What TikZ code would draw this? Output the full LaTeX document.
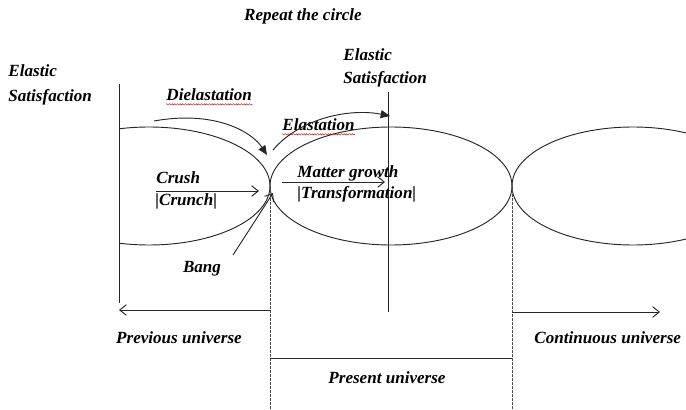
\documentclass[tikz,border=0pt]{standalone}
\usepackage{fontspec}
\setmainfont{Liberation Serif}
\usetikzlibrary{arrows.meta,positioning,shapes.geometric,decorations.pathmorphing}

\begin{document}
\begin{tikzpicture}[x=0.75pt,y=-0.75pt,line width=0.7pt,draw=black!85,
  lbl/.style={font=\fontsize{12.8}{14}\selectfont\bfseries\itshape,inner sep=0pt,anchor=base west},
  universe/.style={draw,ellipse,inner sep=0pt,outer sep=0pt,minimum width=181.5pt,minimum height=88.5pt},
  guide/.style={line width=0.55pt,dash pattern=on 2pt off 1pt,black!70},
  openarrow/.style={-{Straight Barb[length=5pt,width=8pt]}},
  fullarrow/.style={-{Triangle[length=7pt,width=6pt]}},
  squiggle/.style={red!80!black,line width=0.3pt,decorate,
    decoration={snake,amplitude=0.5pt,segment length=2pt}}]
  \useasboundingbox (0,0) rectangle (686,410);

  %% Three universes, cut by the left axis and the page edge
  \begin{scope}
    \clip (119,0) rectangle (686,410);
    \node[universe] (prevU) at (149,186) {};
    \node[universe] (presU) at (391,186) {};
    \node[universe] (contU) at (633,186) {};
  \end{scope}

  %% Axes
  \coordinate (axisTop) at (119,84);
  \coordinate (axisBot) at (119,303);
  \draw (axisTop) -- (axisBot);
  \coordinate (midTop) at (388,92);
  \coordinate (midBot) at (388,312);
  \draw (midTop) -- (midBot);

  %% Borders of the present universe
  \draw[guide] (presU.west) -- (presU.west |- 0,410);
  \draw[guide] (presU.east) -- (presU.east |- 0,410);
  \draw (presU.west |- 0,358) -- (presU.east |- 0,358);

  %% Time arrows
  \coordinate (prevEnd) at (119,310);
  \coordinate (contEnd) at (660,312);
  \draw[openarrow] (presU.west |- 0,310) -- (prevEnd);
  \draw[openarrow] (presU.east |- 0,312) -- (contEnd);

  %% Labels
  \node[lbl,anchor=base] (repeat) at (303,21) {Repeat the circle};
  \node[lbl] (elastL) at (8,77) {Elastic};
  \node[lbl] (satisL) at (8,102) {Satisfaction};
  \node[lbl] (elastM) at (343,61) {Elastic};
  \node[lbl] (satisM) at (343,84) {Satisfaction};
  \node[lbl] (diel) at (166,101) {Dielastation};
  \node[lbl] (elas) at (282,131) {Elastation};
  \node[lbl] (crush) at (156,183) {Crush};
  \node[lbl] (crunch) at (155,205) {|Crunch|};
  \node[lbl] (matter) at (297,177) {Matter growth};
  \node[lbl] (transf) at (297,198) {|Transformation|};
  \node[lbl,anchor=base] (bang) at (202,272) {Bang};
  \node[lbl,anchor=base] (prev) at (179,343) {Previous universe};
  \node[lbl] (cont) at (534,343) {Continuous universe};
  \node[lbl,anchor=base] (pres) at (387,383) {Present universe};

  %% Spell-check marks
  \draw[squiggle] ([yshift=-2pt]diel.south west) -- ([yshift=-2pt]diel.south east);
  \draw[squiggle] ([yshift=-2pt]elas.south west) -- ([yshift=-2pt]elas.south east);

  %% Process arrows
  \coordinate (crushTail) at (156,191);
  \coordinate (matterTail) at (282,182);
  \coordinate (matterHead) at (385,182);
  \coordinate (bangTail) at (233,255);
  \coordinate (dielTail) at (154,121);
  \coordinate (elasHead) at (390,116);
  \draw[openarrow] (crushTail) -- ([shift={(-11,5)}]presU.west);
  \draw[openarrow] (matterTail) -- (matterHead);
  \draw[openarrow] (bangTail) -- ([shift={(3,7)}]presU.west);
  \draw[fullarrow] (dielTail) .. controls (215,110) and (252,132) .. ([shift={(-3,-31)}]presU.west);
  \draw[fullarrow] ([shift={(3,-36)}]presU.west) .. controls (300,118) and (350,108) .. (elasHead);
\end{tikzpicture}
\end{document}
